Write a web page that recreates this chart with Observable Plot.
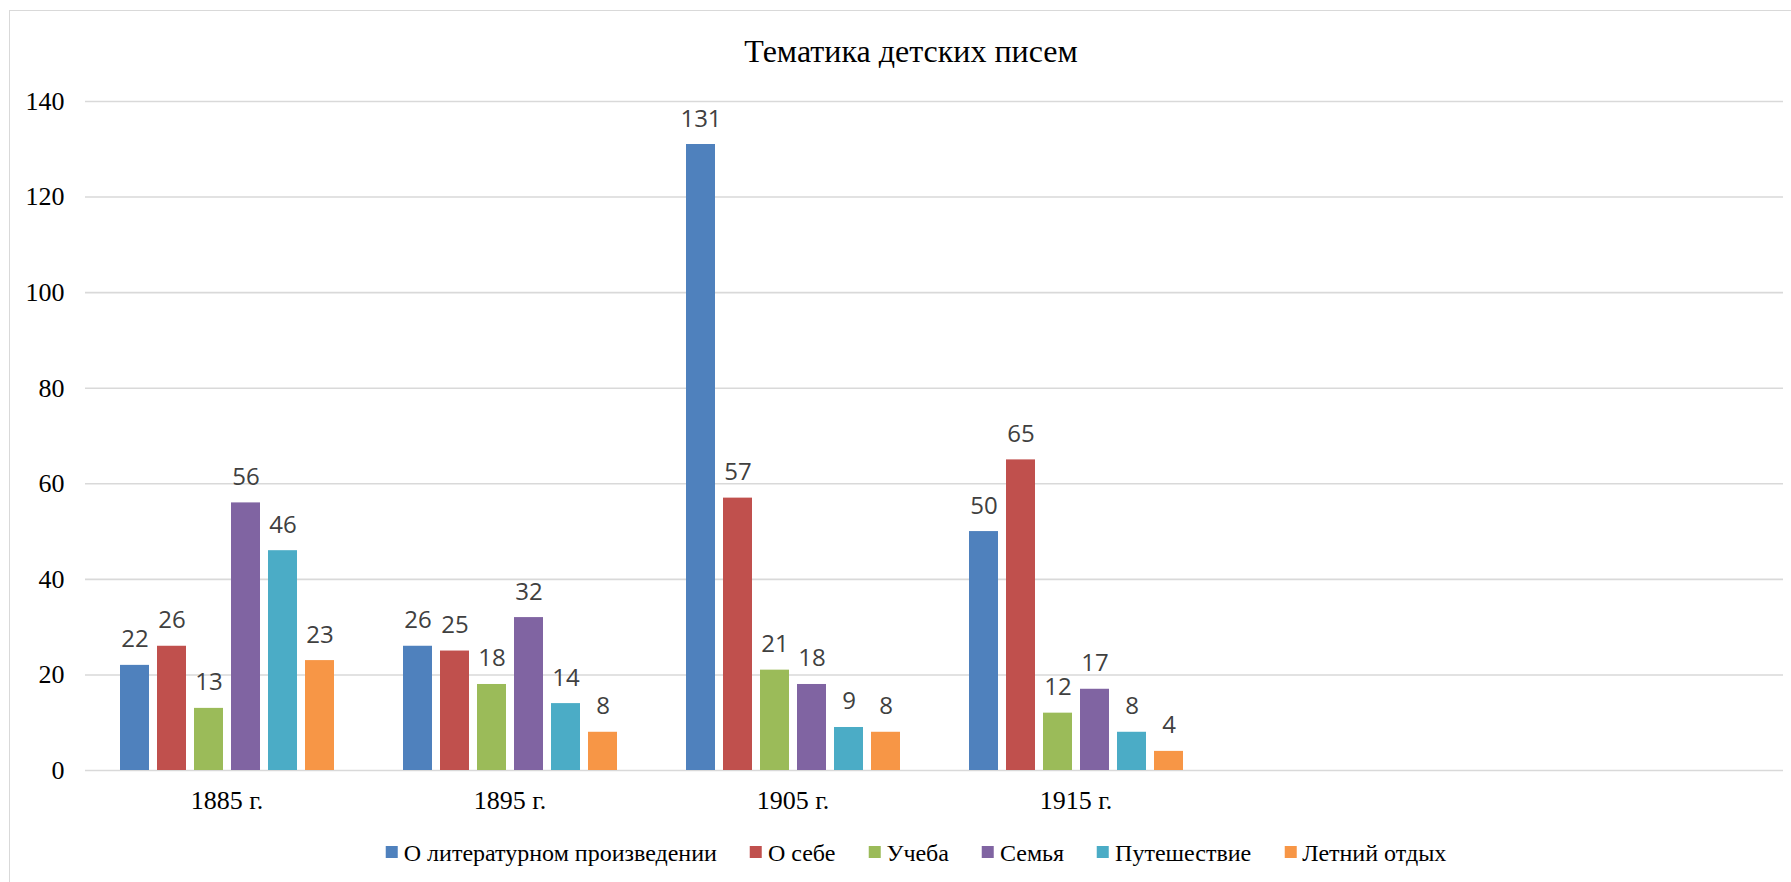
<!DOCTYPE html>
<html>
<head>
<meta charset="utf-8">
<script src="https://cdn.jsdelivr.net/npm/d3@7"></script>
<script src="https://cdn.jsdelivr.net/npm/@observablehq/plot@0.6"></script>
<style>
  html, body { margin: 0; padding: 0; background: #fff; overflow: hidden; }
  #wrap { position: relative; width: 1791px; height: 882px; overflow: hidden; }
  #frame { position: absolute; left: 9px; top: 10px; width: 1820px; height: 900px; border: 1px solid #d9d9d9; box-sizing: border-box; }
  #title { position: absolute; left: 911px; top: 35px; transform: translateX(-50%); font-family: "Liberation Serif", "Times New Roman", serif; font-size: 32px; line-height: 32px; color: #000; white-space: nowrap; }
  #chart { position: absolute; left: 0; top: 0; }
  #legend { position: absolute; left: 916px; top: 840.5px; transform: translateX(-50%); display: flex; align-items: center; font-family: "Liberation Serif", "Times New Roman", serif; font-size: 24px; line-height: 24px; color: #000; white-space: nowrap; }
  #legend .item { display: flex; align-items: center; margin-right: 33px; }
  #legend .item:last-child { margin-right: 0; }
  #legend .sw { width: 12px; height: 12px; margin-right: 6px; transform: translateY(-1px); }
</style>
</head>
<body>
<div id="wrap">
  <div id="frame"></div>
  <div id="title">Тематика детских писем</div>
  <div id="chart"></div>
  <div id="legend"></div>
</div>
<script>
// Category (x) labels and two unused category slots on the right of the axis
const years = ["1885 г.", "1895 г.", "1905 г.", "1915 г."];
const spareSlots = ["slot5", "slot6"];

// Series names and colours
const series = ["О литературном произведении", "О себе", "Учеба", "Семья", "Путешествие", "Летний отдых"];
const colors = ["#4F81BD", "#C0504D", "#9BBB59", "#8064A2", "#4BACC6", "#F79646"];

// Series values, one per year
const litWork   = [22, 26, 131, 50];
const aboutSelf = [26, 25, 57, 65];
const study     = [13, 18, 21, 12];
const family    = [56, 32, 18, 17];
const travel    = [46, 14, 9, 8];
const summer    = [23, 8, 8, 4];

// Y axis ticks
const yTicks = [0, 20, 40, 60, 80, 100, 120, 140];

const valuesBySeries = [litWork, aboutSelf, study, family, travel, summer];
const data = [];
years.forEach((yr, i) => {
  series.forEach((s, j) => data.push({year: yr, series: s, value: valuesBySeries[j][i]}));
});
const slots = [...years, ...spareSlots];
const grid = slots.flatMap(s => yTicks.map(t => ({slot: s, t})));

const serif = "'Liberation Serif', 'Times New Roman', serif";

const chart = Plot.plot({
  width: 1791,
  height: 830,
  marginLeft: 85,
  marginRight: 8,
  marginTop: 101,
  marginBottom: 60,
  style: {background: "transparent", color: "#000", overflow: "visible"},
  fx: {domain: slots, padding: 0, label: null},
  x: {domain: series, paddingInner: 0.222, paddingOuter: 0.865, axis: null},
  y: {domain: [0, 140], ticks: yTicks, label: null},
  color: {domain: series, range: colors},
  marks: [
    Plot.ruleY(grid, {fx: "slot", y: "t", stroke: "#d9d9d9", strokeWidth: 1.6}),
    Plot.barY(data, {fx: "year", x: "series", y: "value", fill: "series"}),
    Plot.text(data, {fx: "year", x: "series", y: "value", text: d => String(d.value), dy: -18, lineAnchor: "bottom", fontSize: 24, fontFamily: "'Open Sans', sans-serif", fill: "#404040"}),
    Plot.axisY({ticks: yTicks, tickSize: 0, tickPadding: 21, fontSize: 26, fontFamily: serif, label: null}),
    Plot.axisFx({anchor: "bottom", tickSize: 0, tickPadding: 20, fontSize: 26, fontFamily: serif, tickFormat: d => years.includes(d) ? d : "", label: null})
  ]
});
document.getElementById("chart").appendChild(chart);

const legend = document.getElementById("legend");
series.forEach((s, i) => {
  const item = document.createElement("div");
  item.className = "item";
  const sw = document.createElement("div");
  sw.className = "sw";
  sw.style.background = colors[i];
  const lab = document.createElement("span");
  lab.textContent = s;
  item.appendChild(sw);
  item.appendChild(lab);
  legend.appendChild(item);
});
</script>
</body>
</html>
